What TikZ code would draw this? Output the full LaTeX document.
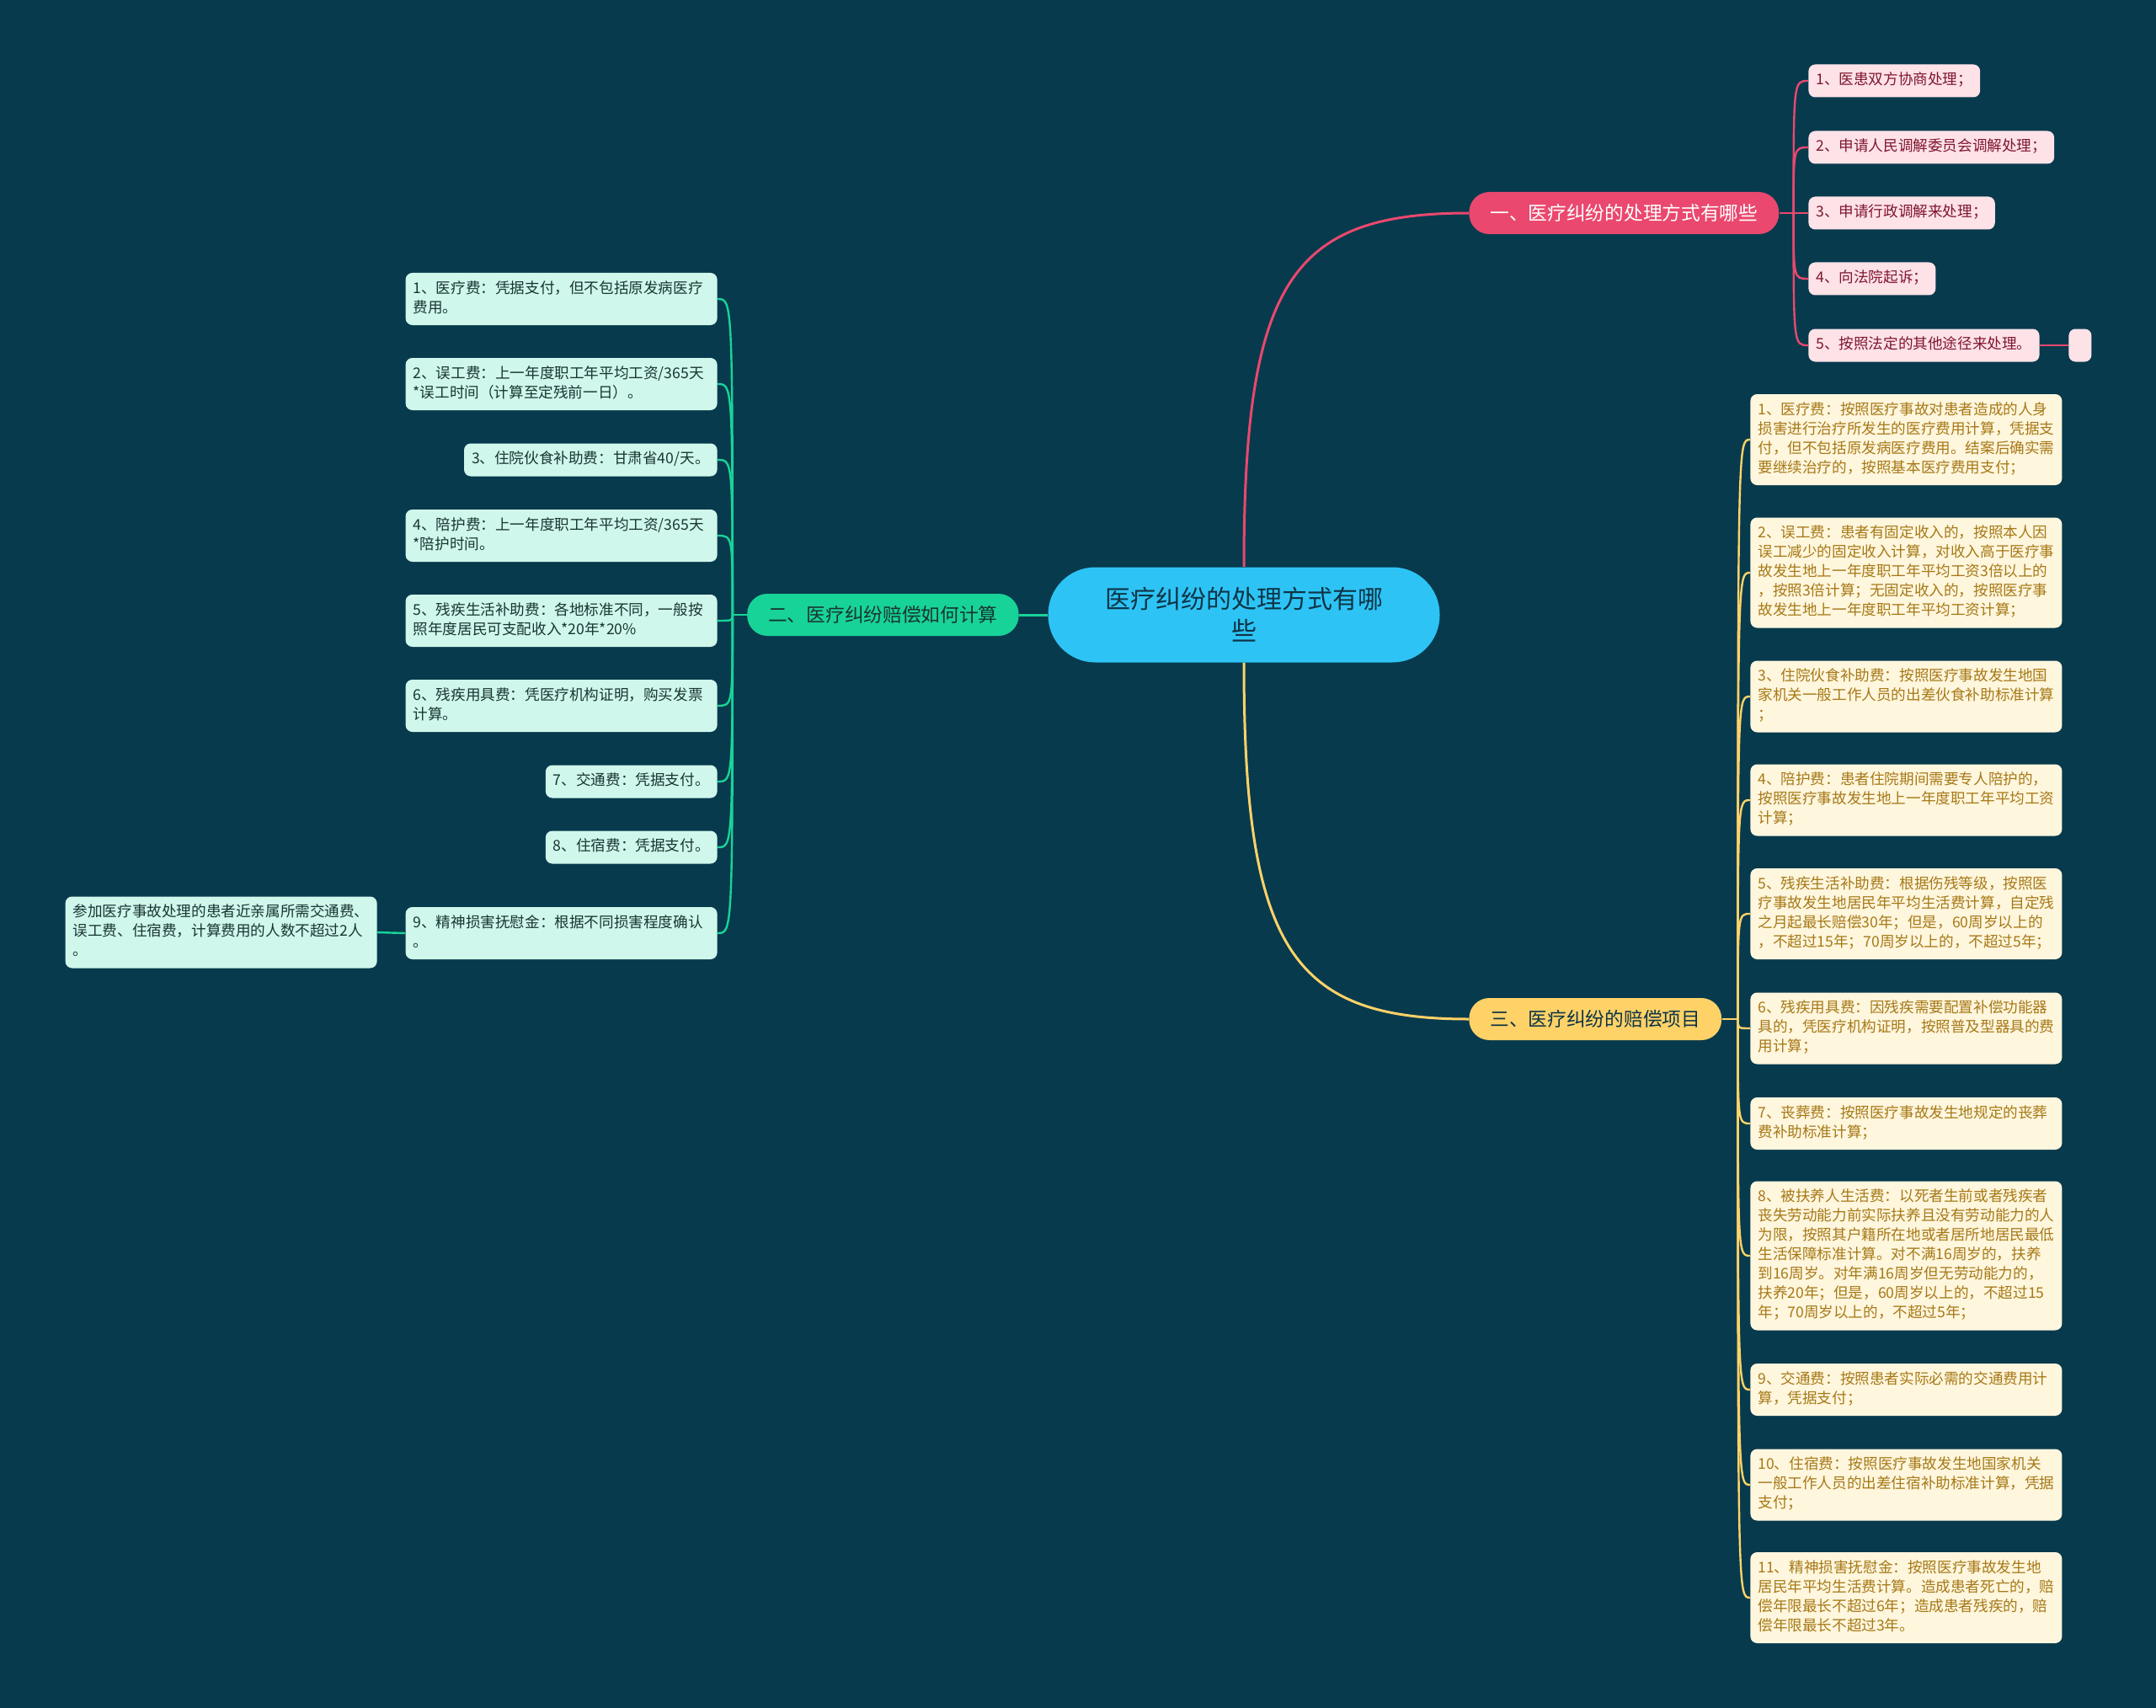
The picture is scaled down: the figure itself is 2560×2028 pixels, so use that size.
\documentclass[tikz,border=0pt]{standalone}
\usepackage{fontspec}
\setmainfont{Noto Sans CJK SC}
\usetikzlibrary{positioning}
\definecolor{bgblue}{RGB}{7,58,77}
\definecolor{rootblue}{RGB}{45,196,245}
\definecolor{roottext}{RGB}{14,52,70}
\definecolor{pinkmain}{RGB}{234,72,110}
\definecolor{pinkleaf}{RGB}{253,226,232}
\definecolor{pinktext}{RGB}{128,22,46}
\definecolor{greenmain}{RGB}{24,211,152}
\definecolor{greenleaf}{RGB}{208,247,236}
\definecolor{greentext}{RGB}{24,54,50}
\definecolor{yellowmain}{RGB}{255,210,104}
\definecolor{yellowleaf}{RGB}{255,246,222}
\definecolor{yellowtext}{RGB}{166,121,22}
\tikzstyle{mainlink} = [line width=1.5pt]
\tikzstyle{leaflink} = [line width=1.2pt]

\begin{document}
\begin{tikzpicture}[
  x=0.5pt, y=-0.5pt,
  root/.style={rectangle, rounded corners=28pt, fill=rootblue, text=roottext, align=center, font=\fontsize{15}{19}\selectfont, minimum width=232.5pt, minimum height=56.5pt, inner sep=0pt},
  topic/.style={rectangle, rounded corners=12pt, inner xsep=12.5pt, inner ysep=0pt, minimum height=25pt, font=\fontsize{11.35}{14}\selectfont},
  leaf/.style={rectangle, rounded corners=4pt, inner xsep=4.5pt, inner ysep=4pt, align=left, font=\fontsize{8.8}{11.5}\selectfont, execute at begin node=\strut, execute at end node=\strut},
  wide/.style={text width=176pt},
  pleaf/.style={leaf, fill=pinkleaf, text=pinktext, anchor=west},
  gleaf/.style={leaf, fill=greenleaf, text=greentext, anchor=east},
  yleaf/.style={leaf, wide, fill=yellowleaf, text=yellowtext, anchor=west}
]
\useasboundingbox[fill=bgblue] (0,0) rectangle (2560,2028);

% Root
\node[root] (root) at (1477,730) {医疗纠纷的处理方式有哪\\些};

% Topics
\node[topic, fill=pinkmain, text=white, anchor=west] (t1) at (1744,253) {一、医疗纠纷的处理方式有哪些};
\node[topic, fill=greenmain, text=greentext, anchor=east] (t2) at (1210,730) {二、医疗纠纷赔偿如何计算};
\node[topic, fill=yellowmain, text=roottext, anchor=west] (t3) at (1744,1210) {三、医疗纠纷的赔偿项目};

\draw[mainlink, pinkmain] (root.north) .. controls +(0,-340) and +(-210,0) .. (t1.west);
\draw[mainlink, greenmain] (root.west) -- (t2.east);
\draw[mainlink, yellowmain] (root.south) .. controls +(0,340) and +(-210,0) .. (t3.west);

% Branch 1: ways of handling
\node[pleaf] (p1) at (2147,96) {1、医患双方协商处理；};
\node[pleaf] (p2) at (2147,175) {2、申请人民调解委员会调解处理；};
\node[pleaf] (p3) at (2147,253) {3、申请行政调解来处理；};
\node[pleaf] (p4) at (2147,331) {4、向法院起诉；};
\node[pleaf] (p5) at (2147,410) {5、按照法定的其他途径来处理。};
\node[rectangle, rounded corners=4pt, fill=pinkleaf, minimum width=13.5pt, minimum height=19.5pt, inner sep=0pt, anchor=west] (pblank) at (2456,410) {};

\coordinate (t1j) at ([xshift=8.5pt]t1.east);
\draw[leaflink, pinkmain] (t1.east) -- (t1j);
\foreach \n in {p1,p2,p3,p4,p5}
  \draw[leaflink, pinkmain] (t1j) .. controls (t1j |- \n.west) .. (\n.west);
\draw[leaflink, pinkmain] (p5.east) -- (pblank.west);

% Branch 2: how to calculate
\node[gleaf, wide] (g1) at (852,355) {1、医疗费：凭据支付，但不包括原发病医疗\\费用。};
\node[gleaf, wide] (g2) at (852,456) {2、误工费：上一年度职工年平均工资/365天\\{}*误工时间（计算至定残前一日）。};
\node[gleaf] (g3) at (852,546) {3、住院伙食补助费：甘肃省40/天。};
\node[gleaf, wide] (g4) at (852,636) {4、陪护费：上一年度职工年平均工资/365天\\{}*陪护时间。};
\node[gleaf, wide] (g5) at (852,737) {5、残疾生活补助费：各地标准不同，一般按\\照年度居民可支配收入*20年*20\%};
\node[gleaf, wide] (g6) at (852,838) {6、残疾用具费：凭医疗机构证明，购买发票\\计算。};
\node[gleaf] (g7) at (852,928) {7、交通费：凭据支付。};
\node[gleaf] (g8) at (852,1006) {8、住宿费：凭据支付。};
\node[gleaf, wide] (g9) at (852,1108) {9、精神损害抚慰金：根据不同损害程度确认\\。};
\node[gleaf, wide] (g9a) at (448,1107) {参加医疗事故处理的患者近亲属所需交通费、\\误工费、住宿费，计算费用的人数不超过2人\\。};

\coordinate (t2j) at ([xshift=-8.5pt]t2.west);
\draw[leaflink, greenmain] (t2.west) -- (t2j);
\foreach \n in {g1,g2,g3,g4,g5,g6,g7,g8,g9}
  \draw[leaflink, greenmain] (t2j) .. controls (t2j |- \n.east) .. (\n.east);
\draw[leaflink, greenmain] (g9.west) -- (g9a.east);

% Branch 3: compensation items
\node[yleaf] (y1) at (2078,522) {1、医疗费：按照医疗事故对患者造成的人身\\损害进行治疗所发生的医疗费用计算，凭据支\\付，但不包括原发病医疗费用。结案后确实需\\要继续治疗的，按照基本医疗费用支付；};
\node[yleaf] (y2) at (2078,680) {2、误工费：患者有固定收入的，按照本人因\\误工减少的固定收入计算，对收入高于医疗事\\故发生地上一年度职工年平均工资3倍以上的\\，按照3倍计算；无固定收入的，按照医疗事\\故发生地上一年度职工年平均工资计算；};
\node[yleaf] (y3) at (2078,827) {3、住院伙食补助费：按照医疗事故发生地国\\家机关一般工作人员的出差伙食补助标准计算\\；};
\node[yleaf] (y4) at (2078,950) {4、陪护费：患者住院期间需要专人陪护的，\\按照医疗事故发生地上一年度职工年平均工资\\计算；};
\node[yleaf] (y5) at (2078,1085) {5、残疾生活补助费：根据伤残等级，按照医\\疗事故发生地居民年平均生活费计算，自定残\\之月起最长赔偿30年；但是，60周岁以上的\\，不超过15年；70周岁以上的，不超过5年；};
\node[yleaf] (y6) at (2078,1221) {6、残疾用具费：因残疾需要配置补偿功能器\\具的，凭医疗机构证明，按照普及型器具的费\\用计算；};
\node[yleaf] (y7) at (2078,1334) {7、丧葬费：按照医疗事故发生地规定的丧葬\\费补助标准计算；};
\node[yleaf] (y8) at (2078,1491) {8、被扶养人生活费：以死者生前或者残疾者\\丧失劳动能力前实际扶养且没有劳动能力的人\\为限，按照其户籍所在地或者居所地居民最低\\生活保障标准计算。对不满16周岁的，扶养\\到16周岁。对年满16周岁但无劳动能力的，\\扶养20年；但是，60周岁以上的，不超过15\\年；70周岁以上的，不超过5年；};
\node[yleaf] (y9) at (2078,1650) {9、交通费：按照患者实际必需的交通费用计\\算，凭据支付；};
\node[yleaf] (y10) at (2078,1763) {10、住宿费：按照医疗事故发生地国家机关\\一般工作人员的出差住宿补助标准计算，凭据\\支付；};
\node[yleaf] (y11) at (2078,1897) {11、精神损害抚慰金：按照医疗事故发生地\\居民年平均生活费计算。造成患者死亡的，赔\\偿年限最长不超过6年；造成患者残疾的，赔\\偿年限最长不超过3年。};

\coordinate (t3j) at ([xshift=9.5pt]t3.east);
\draw[leaflink, yellowmain] (t3.east) -- (t3j);
\foreach \n in {y1,y2,y3,y4,y5,y6,y7,y8,y9,y10,y11}
  \draw[leaflink, yellowmain] (t3j) .. controls (t3j |- \n.west) .. (\n.west);
\end{tikzpicture}
\end{document}
